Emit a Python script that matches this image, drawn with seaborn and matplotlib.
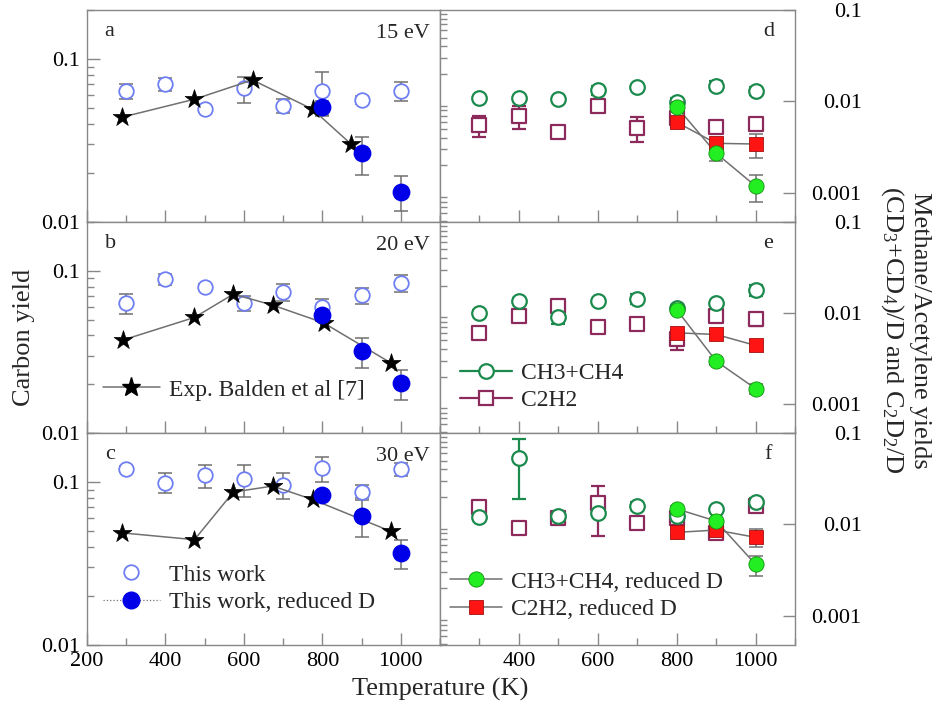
import numpy as np
import pandas as pd
import matplotlib
matplotlib.use("Agg")
import matplotlib.pyplot as plt
import seaborn as sns
from matplotlib.lines import Line2D
from matplotlib.ticker import FixedLocator, FixedFormatter, LogLocator, NullFormatter, MultipleLocator

# ---------------- data ----------------
T = [300, 400, 500, 600, 700, 800, 900, 1000]
T_red = [800, 900, 1000]

# left column: carbon yield
a_work = [0.0637, 0.0703, 0.0494, 0.0661, 0.0517, 0.0640, 0.0563, 0.0637]
a_work_err = [0.0065, 0.0067, 0.002, 0.012, 0.005, 0.019, 0.003, 0.0085]
a_red = [0.0506, 0.0264, 0.01535]
a_red_err = [0.005, 0.007, 0.0037]
a_exp_T = [288, 473, 622, 775, 873]
a_exp = [0.0439, 0.0566, 0.0744, 0.0492, 0.0301]

b_work = [0.0630, 0.0885, 0.0797, 0.0635, 0.0743, 0.0600, 0.0708, 0.0844]
b_work_err = [0.0086, 0.007, 0.003, 0.0068, 0.009, 0.007, 0.008, 0.010]
b_red = [0.0533, 0.0320, 0.0202]
b_red_err = [0.004, 0.0068, 0.0043]
b_exp_T = [291, 474, 573, 673, 803, 974]
b_exp = [0.0374, 0.0516, 0.0718, 0.0615, 0.0478, 0.0271]

c_work = [0.1197, 0.0992, 0.1100, 0.1040, 0.0959, 0.1214, 0.0873, 0.1197]
c_work_err = [0.005, 0.014, 0.018, 0.023, 0.017, 0.021, 0.008, 0.011]
c_red = [0.0828, 0.0617, 0.0367]
c_red_err = [0.004, 0.016, 0.0073]
c_exp_T = [288, 474, 573, 673, 775, 974]
c_exp = [0.0488, 0.0443, 0.0868, 0.0945, 0.0782, 0.0499]

energies = ["15 eV", "20 eV", "30 eV"]
left_letters = ["a", "b", "c"]
right_letters = ["d", "e", "f"]

# right column: methane / acetylene yields
d_ch = [0.0108, 0.0108, 0.0107, 0.01336, 0.01429, 0.00995, 0.0149, 0.01312]
d_ch_err = [0.0005, 0.0008, 0.0005, 0.0015, 0.0005, 0.001, 0.0017, 0.0013]
d_c2 = [0.00553, 0.0070, 0.00468, 0.00893, 0.00518, 0.00655, 0.00531, 0.00568]
d_c2_err = [0.0014, 0.002, 0.0006, 0.0003, 0.0016, 0.001, 0.0003, 0.0007]
d_ch_red = [0.00877, 0.00272, 0.00119]
d_ch_red_err = [0.001, 0.0005, 0.0004]
d_c2_red = [0.00593, 0.00349, 0.00343]
d_c2_red_err = [0.0008, 0.0003, 0.001]

e_ch = [0.01005, 0.0137, 0.00908, 0.01346, 0.0144, 0.0114, 0.0129, 0.0178]
e_ch_err = [0.0008, 0.0008, 0.0015, 0.0008, 0.0017, 0.0008, 0.0008, 0.0025]
e_c2 = [0.00597, 0.0094, 0.0119, 0.00706, 0.00767, 0.00513, 0.0094, 0.00863]
e_c2_err = [0.0008, 0.0005, 0.0012, 0.0004, 0.0004, 0.0012, 0.0013, 0.0014]
e_ch_red = [0.0109, 0.00297, 0.00148]
e_ch_red_err = [0.0008, 0.0003, 0.0002]
e_c2_red = [0.00607, 0.00582, 0.00441]
e_c2_red_err = [0.0005, 0.0006, 0.0006]

f_ch = [0.01197, 0.0529, 0.0124, 0.01325, 0.0159, 0.0125, 0.01466, 0.0175]
f_ch_err = [0.0008, 0.034, 0.0012, 0.0008, 0.0015, 0.0015, 0.0008, 0.002]
f_c2 = [0.01567, 0.00908, 0.01167, 0.01706, 0.01047, 0.0117, 0.0080, 0.0159]
f_c2_err = [0.0015, 0.0005, 0.0012, 0.0096, 0.0008, 0.0015, 0.001, 0.0015]
f_ch_red = [0.0148, 0.0109, 0.00367]
f_ch_red_err = [0.001, 0.0008, 0.0009]
f_c2_red = [0.0082, 0.0087, 0.00724]
f_c2_red_err = [0.0008, 0.001, 0.0016]

x_ticks_left = [200, 400, 600, 800, 1000]
x_ticks_right = [400, 600, 800, 1000]

# ---------------- style ----------------
sns.set_theme(style="ticks")
plt.rcParams['font.family'] = ['Liberation Serif', 'DejaVu Serif']
plt.rcParams['mathtext.fontset'] = 'custom'
plt.rcParams['mathtext.rm'] = 'Liberation Serif'
plt.rcParams['mathtext.it'] = 'Liberation Serif:italic'

BLUE_OPEN = '#6f7ff2'
BLUE_FILL = '#0000e8'
GREEN_OPEN = '#1b8a4c'
PURPLE = '#8c2a5c'
RED = '#ff1414'
GREEN_FILL = '#22ee22'
GRAY = '#707070'
SPINE = '#888888'
TICKFS = 16
LEGFS = 17
LABFS = 19

fig = plt.figure(figsize=(9.36, 7.08), dpi=100)
W, H = 936.0, 708.0
rows = [(10, 222), (222, 433), (433, 645)]
xL0, xL1, xR1 = 87, 440, 795

axL, axR = [], []
for (t, b) in rows:
    axL.append(fig.add_axes([xL0 / W, 1 - b / H, (xL1 - xL0) / W, (b - t) / H]))
    axR.append(fig.add_axes([xL1 / W, 1 - b / H, (xR1 - xL1) / W, (b - t) / H]))


def style_axis(ax, side, ylim, majors, labels, bottom_labels, xt):
    ax.set_yscale('log')
    ax.set_xlim(200, 1100)
    ax.set_ylim(*ylim)
    for s in ax.spines.values():
        s.set_color(SPINE)
        s.set_linewidth(1.0)
    ax.yaxis.set_major_locator(FixedLocator(majors))
    ax.yaxis.set_major_formatter(FixedFormatter(labels))
    ax.yaxis.set_minor_locator(LogLocator(base=10, subs=np.arange(2, 10)))
    ax.yaxis.set_minor_formatter(NullFormatter())
    ax.xaxis.set_major_locator(FixedLocator(xt))
    ax.xaxis.set_minor_locator(MultipleLocator(100))
    ax.tick_params(axis='both', which='both', direction='in', color=SPINE,
                   labelsize=TICKFS, labelcolor='black')
    ax.tick_params(axis='both', which='major', length=9, width=1.0)
    ax.tick_params(axis='both', which='minor', length=5, width=1.0)
    ax.tick_params(axis='x', labelbottom=bottom_labels, top=False, pad=5)
    if side == 'left':
        ax.tick_params(axis='y', left=True, right=False, labelleft=True, labelright=False, pad=5)
    else:
        ax.tick_params(axis='y', left=False, right=True, labelleft=False, labelright=True, pad=48)
        for lab in ax.get_yticklabels():
            lab.set_horizontalalignment('right')
    ax.set_xlabel('')
    ax.set_ylabel('')


left_sets = [
    (a_work, a_work_err, a_red, a_red_err, a_exp_T, a_exp),
    (b_work, b_work_err, b_red, b_red_err, b_exp_T, b_exp),
    (c_work, c_work_err, c_red, c_red_err, c_exp_T, c_exp),
]

for i, (ax, (w, we, r, re_, eT, ev)) in enumerate(zip(axL, left_sets)):
    ax.errorbar(T, w, yerr=we, fmt='none', ecolor=GRAY, elinewidth=1.1,
                capsize=5, capthick=1.1, zorder=2)
    ax.errorbar(T_red, r, yerr=re_, fmt='none', ecolor=GRAY, elinewidth=1.1,
                capsize=5, capthick=1.1, zorder=2)
    sns.scatterplot(x=T, y=w, ax=ax, marker='o', s=110, facecolor='white',
                    edgecolor=BLUE_OPEN, linewidth=1.3, zorder=3)
    sns.lineplot(x=eT, y=ev, ax=ax, color=GRAY, linewidth=1.1, errorbar=None,
                 sort=False, zorder=4)
    sns.scatterplot(x=eT, y=ev, ax=ax, marker='*', s=200, color='black',
                    edgecolor='black', linewidth=0.5, zorder=5)
    sns.scatterplot(x=T_red, y=r, ax=ax, marker='o', s=140, color=BLUE_FILL,
                    edgecolor=BLUE_FILL, linewidth=1.0, zorder=6)
    style_axis(ax, 'left', (0.01, 0.2), [0.01, 0.1], ['0.01', '0.1'], i == 2,
               x_ticks_left)
    ax.text(0.05, 0.90, left_letters[i], transform=ax.transAxes, fontsize=16,
            ha='left', va='center')
    ax.text(0.97, 0.89, energies[i], transform=ax.transAxes, fontsize=16,
            ha='right', va='center')

right_sets = [
    (d_ch, d_ch_err, d_c2, d_c2_err, d_ch_red, d_ch_red_err, d_c2_red, d_c2_red_err),
    (e_ch, e_ch_err, e_c2, e_c2_err, e_ch_red, e_ch_red_err, e_c2_red, e_c2_red_err),
    (f_ch, f_ch_err, f_c2, f_c2_err, f_ch_red, f_ch_red_err, f_c2_red, f_c2_red_err),
]

for i, (ax, (ch, che, c2, c2e, chr_, chre, c2r, c2re)) in enumerate(zip(axR, right_sets)):
    ax.errorbar(T, c2, yerr=c2e, fmt='none', ecolor=PURPLE, elinewidth=1.6,
                capsize=5, capthick=1.6, zorder=2)
    ax.errorbar(T, ch, yerr=che, fmt='none', ecolor=GREEN_OPEN, elinewidth=1.6,
                capsize=5, capthick=1.6, zorder=2)
    sns.scatterplot(x=T, y=c2, ax=ax, marker='s', s=110, facecolor='white',
                    edgecolor=PURPLE, linewidth=1.6, zorder=3)
    sns.scatterplot(x=T, y=ch, ax=ax, marker='o', s=110, facecolor='white',
                    edgecolor=GREEN_OPEN, linewidth=1.6, zorder=3)
    ax.errorbar(T_red, c2r, yerr=c2re, fmt='none', ecolor=GRAY, elinewidth=1.1,
                capsize=5, capthick=1.1, zorder=4)
    ax.errorbar(T_red, chr_, yerr=chre, fmt='none', ecolor=GRAY, elinewidth=1.1,
                capsize=5, capthick=1.1, zorder=4)
    sns.lineplot(x=T_red, y=c2r, ax=ax, color=GRAY, linewidth=1.1, errorbar=None, zorder=5)
    sns.lineplot(x=T_red, y=chr_, ax=ax, color=GRAY, linewidth=1.1, errorbar=None, zorder=5)
    sns.scatterplot(x=T_red, y=c2r, ax=ax, marker='s', s=110, color=RED,
                    edgecolor='#a01010', linewidth=0.6, zorder=6)
    sns.scatterplot(x=T_red, y=chr_, ax=ax, marker='o', s=120, color=GREEN_FILL,
                    edgecolor='#109010', linewidth=0.6, zorder=7)
    style_axis(ax, 'right', (0.1 / 10 ** 2.317, 0.1), [0.001, 0.01, 0.1],
               ['0.001', '0.01', '0.1'], i == 2, x_ticks_right)
    ax.text(0.925, 0.90, right_letters[i], transform=ax.transAxes, fontsize=16,
            ha='center', va='center')

# ---------------- legends ----------------
leg_kw = dict(frameon=False, fontsize=LEGFS, borderpad=0, borderaxespad=0,
              handletextpad=0.4, loc='center left')

h_exp = Line2D([], [], color=GRAY, lw=1.1, marker='*', markersize=14,
               mfc='black', mec='black')
axL[1].legend([h_exp], ['Exp. Balden et al [7]'], bbox_to_anchor=(0.045, 0.204),
              handlelength=2.4, **leg_kw)

h_work = Line2D([], [], ls='none', marker='o', markersize=10.5, mfc='white',
                mec=BLUE_OPEN, mew=1.3)
h_red = Line2D([], [], color=GRAY, lw=0.9, ls=':', marker='o', markersize=12,
               mfc=BLUE_FILL, mec=BLUE_FILL)
axL[2].legend([h_work, h_red], ['This work', 'This work, reduced D'],
              bbox_to_anchor=(0.045, 0.266), handlelength=2.4, labelspacing=0.25,
              **leg_kw)

h_ch = Line2D([], [], color=GREEN_OPEN, lw=1.6, marker='o', markersize=10.5,
              mfc='white', mec=GREEN_OPEN, mew=1.6)
h_c2 = Line2D([], [], color=PURPLE, lw=1.6, marker='s', markersize=10.5,
              mfc='white', mec=PURPLE, mew=1.6)
axR[1].legend([h_ch, h_c2], ['CH3+CH4', 'C2H2'], bbox_to_anchor=(0.056, 0.218),
              handlelength=2.2, labelspacing=0.25, **leg_kw)

h_chr = Line2D([], [], color=GRAY, lw=1.1, marker='o', markersize=11,
               mfc=GREEN_FILL, mec='#109010', mew=0.6)
h_c2r = Line2D([], [], color=GRAY, lw=1.1, marker='s', markersize=10.5,
               mfc=RED, mec='#a01010', mew=0.6)
axR[2].legend([h_chr, h_c2r], ['CH3+CH4, reduced D', 'C2H2, reduced D'],
              bbox_to_anchor=(0.028, 0.233), handlelength=2.2, labelspacing=0.25,
              **leg_kw)

# ---------------- axis titles ----------------
fig.text(440 / W, 1 - 689 / H, 'Temperature (K)', ha='center', va='center', fontsize=LABFS)
fig.text(24 / W, 1 - 337 / H, 'Carbon yield', ha='center', va='center',
         rotation=90, fontsize=LABFS)
fig.text(920 / W, 1 - 330 / H, 'Methane/Acetylene yields', ha='center', va='center',
         rotation=270, fontsize=LABFS)
fig.text(892 / W, 1 - 330 / H, r'(CD$_3$+CD$_4$)/D and C$_2$D$_2$/D', ha='center',
         va='center', rotation=270, fontsize=LABFS)

fig.savefig('out.png', dpi=100)
